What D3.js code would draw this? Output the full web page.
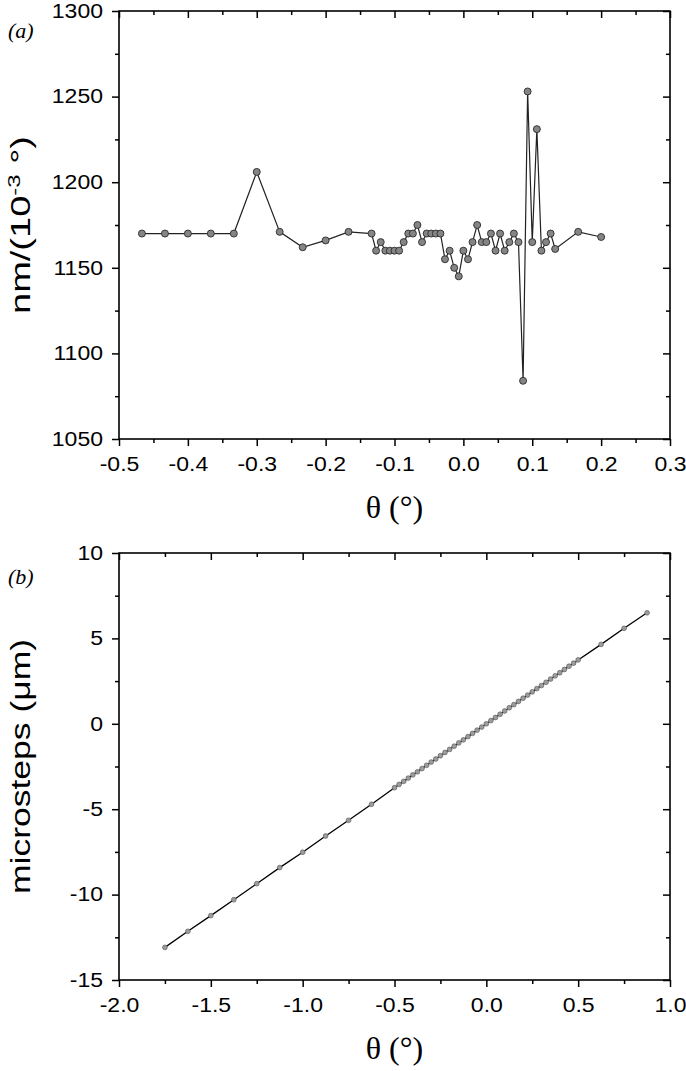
<!DOCTYPE html>
<html>
<head>
<meta charset="utf-8">
<script src="https://cdn.jsdelivr.net/npm/d3@7"></script>
<style>
  html, body { margin: 0; padding: 0; background: #fff; }
  svg { display: block; }
  .tick text { font-family: "Liberation Sans", Arial, sans-serif; font-size: 19.5px; fill: #000; }
</style>
</head>
<body>
<svg id="chart" width="686" height="1071"></svg>
<script>
// ---------- Panel (a) data ----------
const thetaA = [-0.4667, -0.4333, -0.4, -0.3667, -0.3333, -0.3, -0.2667, -0.2333, -0.2, -0.1667,
  -0.1333, -0.1267, -0.12, -0.1133, -0.1067, -0.1, -0.0933, -0.0867, -0.08, -0.0733,
  -0.0667, -0.06, -0.0533, -0.0467, -0.04, -0.0333, -0.0267, -0.02, -0.0133, -0.0067,
  0, 0.0067, 0.0133, 0.02, 0.0267, 0.0333, 0.04, 0.0467, 0.0533, 0.06,
  0.0667, 0.0733, 0.08, 0.0867, 0.0933, 0.1, 0.1067, 0.1133, 0.12, 0.1267,
  0.1333, 0.1667, 0.2];
const nmPerMdeg = [1170, 1170, 1170, 1170, 1170, 1206, 1171, 1162, 1166, 1171,
  1170, 1160, 1165, 1160, 1160, 1160, 1160, 1165, 1170, 1170,
  1175, 1165, 1170, 1170, 1170, 1170, 1155, 1160, 1150, 1145,
  1160, 1155, 1165, 1175, 1165, 1165, 1170, 1160, 1170, 1160,
  1165, 1170, 1165, 1084, 1253, 1165, 1231, 1160, 1165, 1170,
  1161, 1171, 1168];
const xTicksA = [-0.5, -0.4, -0.3, -0.2, -0.1, 0.0, 0.1, 0.2, 0.3];
const xTickLabelsA = ["-0.5", "-0.4", "-0.3", "-0.2", "-0.1", "0.0", "0.1", "0.2", "0.3"];
const xMinorA = [-0.45, -0.35, -0.25, -0.15, -0.05, 0.05, 0.15, 0.25];
const yTicksA = [1050, 1100, 1150, 1200, 1250, 1300];
const yTickLabelsA = ["1050", "1100", "1150", "1200", "1250", "1300"];
const yMinorA = [1075, 1125, 1175, 1225, 1275];

// ---------- Panel (b) data ----------
const thetaB = [-1.75, -1.625, -1.5, -1.375, -1.25, -1.125, -1.0, -0.875, -0.75, -0.625,
  -0.5, -0.475, -0.45, -0.425, -0.4, -0.375, -0.35, -0.325, -0.3, -0.275,
  -0.25, -0.225, -0.2, -0.175, -0.15, -0.125, -0.1, -0.075, -0.05, -0.025,
  0, 0.025, 0.05, 0.075, 0.1, 0.125, 0.15, 0.175, 0.2, 0.225,
  0.25, 0.275, 0.3, 0.325, 0.35, 0.375, 0.4, 0.425, 0.45, 0.475,
  0.5, 0.625, 0.75, 0.875];
const microsteps = [-13.09, -12.15, -11.23, -10.3, -9.36, -8.42, -7.52, -6.57, -5.65, -4.71,
  -3.74, -3.55, -3.37, -3.18, -2.99, -2.81, -2.62, -2.43, -2.24, -2.06,
  -1.87, -1.68, -1.5, -1.31, -1.12, -0.94, -0.75, -0.56, -0.37, -0.19,
  0, 0.19, 0.37, 0.56, 0.75, 0.94, 1.12, 1.31, 1.5, 1.68,
  1.87, 2.06, 2.24, 2.43, 2.62, 2.81, 2.99, 3.18, 3.37, 3.55,
  3.74, 4.65, 5.59, 6.5];
const xTicksB = [-2.0, -1.5, -1.0, -0.5, 0.0, 0.5, 1.0];
const xTickLabelsB = ["-2.0", "-1.5", "-1.0", "-0.5", "0.0", "0.5", "1.0"];
const xMinorB = [-1.75, -1.25, -0.75, -0.25, 0.25, 0.75];
const yTicksB = [-15, -10, -5, 0, 5, 10];
const yTickLabelsB = ["-15", "-10", "-5", "0", "5", "10"];
const yMinorB = [-12.5, -7.5, -2.5, 2.5, 7.5];

const svg = d3.select("#chart");
const STRETCH = 1.18;

function stretchText(sel, k) {
  sel.each(function () {
    const w = this.getComputedTextLength();
    if (w > 0) {
      this.setAttribute("textLength", (w * k).toFixed(2));
      this.setAttribute("lengthAdjust", "spacingAndGlyphs");
    }
  });
}

function panel(opts) {
  const { left, right, top, bottom, xDomain, yDomain, xTicks, xLabels, xMinor,
          yTicks, yLabels, yMinor, xs, ys, marker, line, yTitle, yTitleLen,
          panelLabel, labelY } = opts;
  const x = d3.scaleLinear().domain(xDomain).range([left, right]);
  const y = d3.scaleLinear().domain(yDomain).range([bottom, top]);
  const g = svg.append("g");

  const fmt = (vals, labs) => d => labs[vals.indexOf(d)];

  const gb = g.append("g").attr("transform", `translate(0,${bottom})`)
    .call(d3.axisBottom(x).tickValues(xTicks).tickSize(7).tickPadding(11).tickFormat(fmt(xTicks, xLabels)));
  g.append("g").attr("transform", `translate(0,${bottom})`)
    .call(d3.axisBottom(x).tickValues(xMinor).tickSize(4).tickFormat(""));
  const gl = g.append("g").attr("transform", `translate(${left},0)`)
    .call(d3.axisLeft(y).tickValues(yTicks).tickSize(7).tickPadding(9).tickFormat(fmt(yTicks, yLabels)));
  g.append("g").attr("transform", `translate(${left},0)`)
    .call(d3.axisLeft(y).tickValues(yMinor).tickSize(4).tickFormat(""));
  g.append("g").attr("transform", `translate(0,${top})`)
    .call(d3.axisTop(x).tickValues(xTicks).tickSize(-7).tickFormat(""));
  g.append("g").attr("transform", `translate(0,${top})`)
    .call(d3.axisTop(x).tickValues(xMinor).tickSize(-4).tickFormat(""));
  g.append("g").attr("transform", `translate(${right},0)`)
    .call(d3.axisRight(y).tickValues(yTicks).tickSize(-7).tickFormat(""));
  g.append("g").attr("transform", `translate(${right},0)`)
    .call(d3.axisRight(y).tickValues(yMinor).tickSize(-4).tickFormat(""));

  g.selectAll(".domain").remove();
  g.selectAll(".tick line").attr("stroke", "#000").attr("stroke-width", 1.5);

  g.append("rect").attr("x", left).attr("y", top)
    .attr("width", right - left).attr("height", bottom - top)
    .attr("fill", "none").attr("stroke", "#000").attr("stroke-width", 1.6);

  stretchText(gb.selectAll(".tick text"), STRETCH);
  stretchText(gl.selectAll(".tick text"), STRETCH);

  const pts = xs.map((v, i) => [v, ys[i]]);
  g.append("path").datum(pts)
    .attr("fill", "none").attr("stroke", line.color).attr("stroke-width", line.width)
    .attr("d", d3.line().x(d => x(d[0])).y(d => y(d[1])));
  g.selectAll("circle.pt").data(pts).join("circle").attr("class", "pt")
    .attr("cx", d => x(d[0])).attr("cy", d => y(d[1])).attr("r", marker.r)
    .attr("fill", marker.fill).attr("stroke", marker.stroke).attr("stroke-width", marker.sw);

  // x title (serif)
  g.append("text").attr("x", (left + right) / 2).attr("y", bottom + 79)
    .attr("text-anchor", "middle")
    .attr("font-family", "'Liberation Serif', 'Times New Roman', serif")
    .attr("font-size", 32)
    .text("θ (°)");

  // y title
  const yt = g.append("text")
    .attr("transform", `translate(30,${(top + bottom) / 2}) rotate(-90)`)
    .attr("text-anchor", "middle")
    .attr("font-family", "'Liberation Sans', Arial, sans-serif")
    .attr("font-size", 27);
  yTitle(yt);
  yt.attr("textLength", yTitleLen).attr("lengthAdjust", "spacingAndGlyphs");

  g.append("text").attr("x", 8).attr("y", labelY)
    .attr("font-family", "'Liberation Serif', 'Times New Roman', serif")
    .attr("font-style", "italic").attr("font-size", 22).text(panelLabel);
}

panel({
  left: 119, right: 670, top: 11, bottom: 439,
  xDomain: [-0.5, 0.3], yDomain: [1050, 1300],
  xTicks: xTicksA, xLabels: xTickLabelsA, xMinor: xMinorA,
  yTicks: yTicksA, yLabels: yTickLabelsA, yMinor: yMinorA,
  xs: thetaA, ys: nmPerMdeg,
  marker: { r: 3.5, fill: "#858585", stroke: "#2b2b2b", sw: 0.9 },
  line: { color: "#222", width: 1.2 },
  yTitle: t => {
    t.append("tspan").text("nm/(10");
    t.append("tspan").attr("font-size", 17).attr("dy", -10).text("-3");
    t.append("tspan").attr("dy", 10).text(" °)");
  },
  yTitleLen: 178,
  panelLabel: "(a)", labelY: 38
});

panel({
  left: 119, right: 670, top: 553, bottom: 980,
  xDomain: [-2.0, 1.0], yDomain: [-15, 10],
  xTicks: xTicksB, xLabels: xTickLabelsB, xMinor: xMinorB,
  yTicks: yTicksB, yLabels: yTickLabelsB, yMinor: yMinorB,
  xs: thetaB, ys: microsteps,
  marker: { r: 2.4, fill: "#9c9c9c", stroke: "#505050", sw: 0.6 },
  line: { color: "#000", width: 1.3 },
  yTitle: t => { t.text("microsteps (μm)"); },
  yTitleLen: 255,
  panelLabel: "(b)", labelY: 584
});
</script>
</body>
</html>
